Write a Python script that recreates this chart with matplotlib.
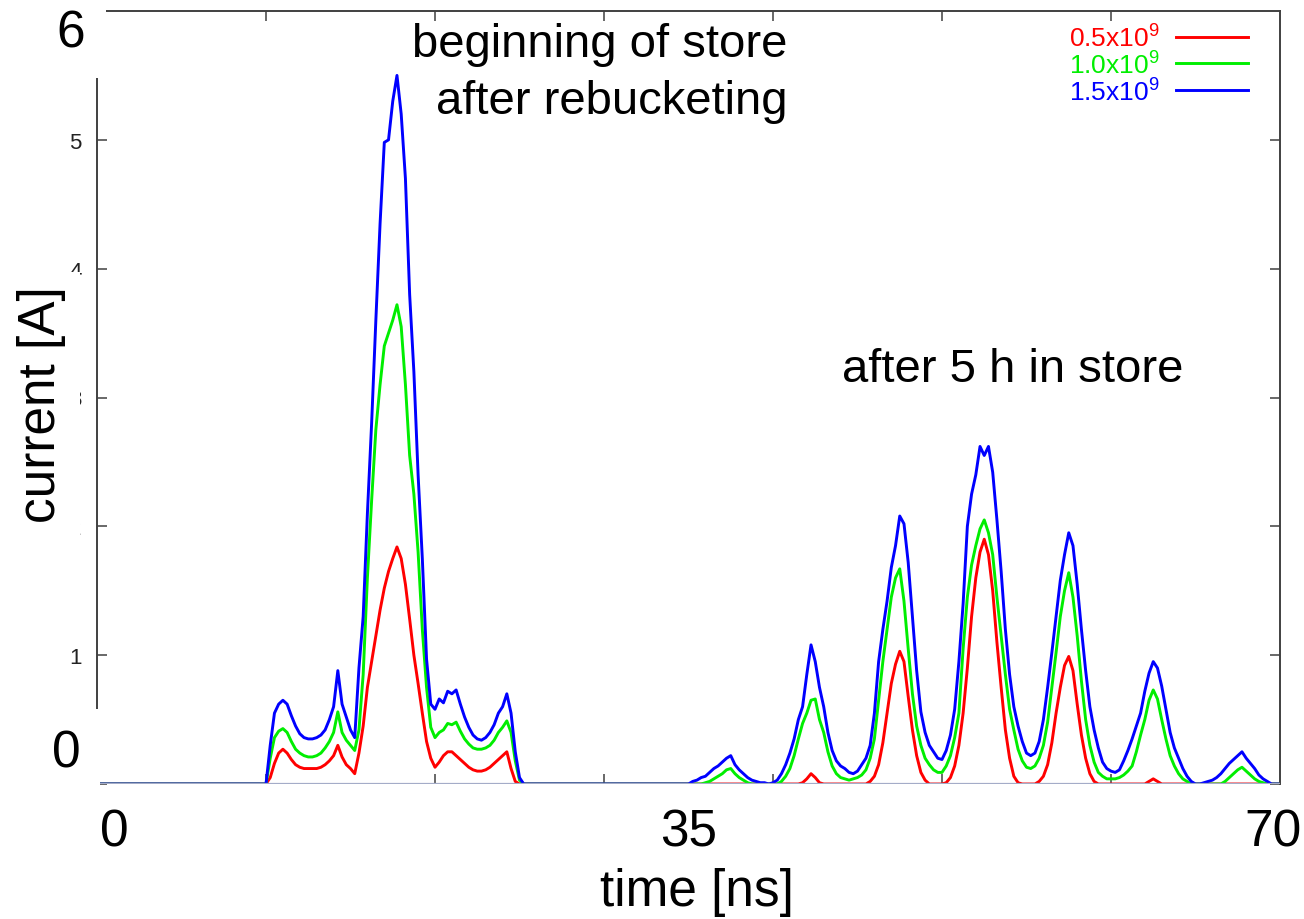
import numpy as np
import matplotlib
matplotlib.use("Agg")
from matplotlib import pyplot as plt

plt.rcParams['font.family'] = ['Liberation Sans', 'DejaVu Sans']
plt.rcParams['mathtext.fontset'] = 'custom'
plt.rcParams['mathtext.rm'] = 'Liberation Sans'

# time grids [ns] of the two bunch profiles
t_start = np.arange(10.0, 25.51, 0.25)   # beginning of store, after rebucketing
t_after = np.arange(35.0, 70.01, 0.25)   # after 5 h in store

# current [A]
red_start = [
    0.0, 0.05, 0.16, 0.24, 0.27, 0.24, 0.19, 0.15,
    0.13, 0.12, 0.12, 0.12, 0.12, 0.13, 0.15, 0.18,
    0.22, 0.30, 0.21, 0.15, 0.12, 0.08, 0.24, 0.45,
    0.75, 0.95, 1.15, 1.35, 1.52, 1.65, 1.75, 1.84,
    1.75, 1.55, 1.28, 1.00, 0.78, 0.55, 0.33, 0.20,
    0.13, 0.17, 0.22, 0.25, 0.25, 0.22, 0.19, 0.16,
    0.13, 0.11, 0.10, 0.10, 0.11, 0.13, 0.16, 0.19,
    0.22, 0.25, 0.12, 0.02, 0.0, 0.0, 0.0]
green_start = [
    0.0, 0.20, 0.36, 0.41, 0.43, 0.40, 0.33, 0.27,
    0.24, 0.22, 0.21, 0.21, 0.22, 0.24, 0.28, 0.33,
    0.40, 0.56, 0.40, 0.34, 0.30, 0.26, 0.42, 0.85,
    1.60, 2.20, 2.75, 3.10, 3.40, 3.50, 3.60, 3.72,
    3.55, 3.10, 2.55, 2.25, 1.80, 1.20, 0.75, 0.44,
    0.36, 0.40, 0.42, 0.47, 0.46, 0.48, 0.41, 0.35,
    0.31, 0.28, 0.27, 0.27, 0.28, 0.30, 0.34, 0.40,
    0.44, 0.49, 0.40, 0.18, 0.03, 0.0, 0.0]
blue_start = [
    0.0, 0.30, 0.55, 0.62, 0.65, 0.62, 0.53, 0.45,
    0.39, 0.36, 0.35, 0.35, 0.36, 0.38, 0.42, 0.50,
    0.60, 0.88, 0.62, 0.52, 0.42, 0.36, 0.90, 1.30,
    2.10, 2.80, 3.60, 4.35, 4.98, 5.00, 5.30, 5.50,
    5.20, 4.70, 3.80, 3.20, 2.40, 1.75, 0.97, 0.62,
    0.58, 0.66, 0.63, 0.72, 0.70, 0.73, 0.62, 0.52,
    0.44, 0.38, 0.35, 0.34, 0.36, 0.40, 0.46, 0.55,
    0.60, 0.70, 0.55, 0.25, 0.05, 0.0, 0.0]

red_after = [
    0.0, 0.0, 0.0, 0.0, 0.0, 0.0, 0.0, 0.0,
    0.0, 0.0, 0.0, 0.0, 0.0, 0.0, 0.0, 0.0,
    0.0, 0.0, 0.0, 0.0, 0.0, 0.0, 0.0, 0.0,
    0.0, 0.0, 0.0, 0.01, 0.04, 0.08, 0.05, 0.01,
    0.0, 0.0, 0.0, 0.0, 0.0, 0.0, 0.0, 0.0,
    0.0, 0.0, 0.0, 0.02, 0.06, 0.15, 0.32, 0.55,
    0.78, 0.93, 1.03, 0.95, 0.68, 0.42, 0.22, 0.09,
    0.03, 0.0, 0.0, 0.0, 0.0, 0.01, 0.05, 0.14,
    0.30, 0.55, 0.90, 1.30, 1.60, 1.80, 1.90, 1.78,
    1.50, 1.10, 0.75, 0.42, 0.20, 0.06, 0.01, 0.0,
    0.0, 0.0, 0.0, 0.02, 0.06, 0.15, 0.32, 0.55,
    0.75, 0.92, 0.99, 0.88, 0.62, 0.38, 0.20, 0.08,
    0.02, 0.0, 0.0, 0.0, 0.0, 0.0, 0.0, 0.0,
    0.0, 0.0, 0.0, 0.0, 0.0, 0.02, 0.04, 0.02,
    0.0, 0.0, 0.0, 0.0, 0.0, 0.0, 0.0, 0.0,
    0.0, 0.0, 0.0, 0.0, 0.0, 0.0, 0.0, 0.0,
    0.0, 0.0, 0.0, 0.0, 0.0, 0.0, 0.0, 0.0,
    0.0, 0.0, 0.0, 0.0, 0.0]
green_after = [
    0.0, 0.0, 0.0, 0.0, 0.01, 0.02, 0.04, 0.06,
    0.08, 0.11, 0.12, 0.08, 0.05, 0.03, 0.01, 0.0,
    0.0, 0.0, 0.0, 0.0, 0.0, 0.0, 0.02, 0.06,
    0.12, 0.22, 0.35, 0.47, 0.55, 0.65, 0.66, 0.50,
    0.40, 0.25, 0.14, 0.08, 0.05, 0.04, 0.03, 0.04,
    0.05, 0.07, 0.11, 0.20, 0.35, 0.65, 0.95, 1.20,
    1.45, 1.60, 1.67, 1.42, 1.05, 0.70, 0.45, 0.30,
    0.20, 0.15, 0.11, 0.09, 0.09, 0.14, 0.22, 0.36,
    0.55, 1.05, 1.45, 1.70, 1.85, 1.98, 2.05, 1.95,
    1.78, 1.45, 1.15, 0.85, 0.58, 0.42, 0.27, 0.18,
    0.13, 0.12, 0.14, 0.20, 0.30, 0.48, 0.75, 1.02,
    1.30, 1.50, 1.64, 1.45, 1.15, 0.80, 0.50, 0.30,
    0.17, 0.09, 0.06, 0.04, 0.04, 0.04, 0.05, 0.07,
    0.10, 0.14, 0.25, 0.38, 0.50, 0.65, 0.73, 0.66,
    0.50, 0.35, 0.22, 0.14, 0.08, 0.04, 0.02, 0.0,
    0.0, 0.0, 0.0, 0.0, 0.0, 0.0, 0.0, 0.02,
    0.05, 0.08, 0.11, 0.13, 0.10, 0.07, 0.04, 0.02,
    0.01, 0.0, 0.0, 0.0, 0.0]
blue_after = [
    0.0, 0.02, 0.03, 0.05, 0.06, 0.09, 0.12, 0.14,
    0.17, 0.20, 0.22, 0.15, 0.11, 0.08, 0.05, 0.03,
    0.02, 0.01, 0.01, 0.0, 0.01, 0.03, 0.08, 0.15,
    0.24, 0.35, 0.50, 0.60, 0.85, 1.08, 0.95, 0.75,
    0.60, 0.40, 0.26, 0.18, 0.14, 0.12, 0.09, 0.08,
    0.10, 0.15, 0.20, 0.30, 0.55, 0.95, 1.20, 1.42,
    1.68, 1.85, 2.08, 2.02, 1.72, 1.30, 0.88, 0.56,
    0.40, 0.30, 0.25, 0.20, 0.19, 0.26, 0.38, 0.58,
    0.95, 1.40, 2.00, 2.25, 2.40, 2.62, 2.55, 2.62,
    2.42, 2.05, 1.65, 1.20, 0.85, 0.60, 0.45, 0.33,
    0.24, 0.22, 0.24, 0.33, 0.50, 0.75, 1.02, 1.30,
    1.58, 1.78, 1.95, 1.85, 1.55, 1.20, 0.88, 0.60,
    0.42, 0.28, 0.17, 0.12, 0.10, 0.09, 0.11, 0.18,
    0.26, 0.35, 0.45, 0.55, 0.72, 0.86, 0.95, 0.90,
    0.76, 0.58, 0.40, 0.28, 0.20, 0.12, 0.06, 0.02,
    0.0, 0.0, 0.01, 0.02, 0.03, 0.05, 0.08, 0.12,
    0.16, 0.19, 0.22, 0.25, 0.20, 0.16, 0.12, 0.07,
    0.04, 0.02, 0.0, 0.0, 0.0]

labels = ['0.5x10$^9$', '1.0x10$^9$', '1.5x10$^9$']
colors = ['#ff0000', '#00ee00', '#0000ff']
y_ticks = [0, 1, 2, 3, 4, 5]
x_ticks = [10, 20, 30, 40, 50, 60]

time = np.concatenate([[0.0], t_start, t_after])
series = [
    np.concatenate([[0.0], red_start, red_after]),
    np.concatenate([[0.0], green_start, green_after]),
    np.concatenate([[0.0], blue_start, blue_after]),
]

fig = plt.figure(figsize=(13.04, 9.2), dpi=100)
ax = fig.add_axes([97 / 1304, 135 / 920, 1183 / 1304, 773 / 920])

for vals, col, lab in zip(series, colors, labels):
    ax.plot(time, vals, color=col, lw=2.1, label=lab, zorder=2)

ax.axhline(0, color='#a4acc8', lw=1.6, zorder=2.6)

ax.set_xlim(0, 70)
ax.set_ylim(0, 6)

for side in ['top', 'left', 'right']:
    ax.spines[side].set_color('#404040')
    ax.spines[side].set_linewidth(1.4)
ax.spines['bottom'].set_visible(False)

ax.set_xticks(x_ticks, [''] * len(x_ticks))
ax.set_yticks(y_ticks, [str(v) for v in y_ticks])
ax.tick_params(direction='in', top=True, right=True, length=7, width=1.1,
               color='#404040', labelsize=16, labelcolor='#222222', pad=11)

big = 37
ax.text(1.0, -0.0802, '0', transform=ax.get_xaxis_transform(), ha='center',
        va='baseline', fontsize=big)
ax.text(35.0, -0.0802, '35', transform=ax.get_xaxis_transform(), ha='center',
        va='baseline', fontsize=big)
ax.text(69.6, -0.0802, '70', transform=ax.get_xaxis_transform(), ha='center',
        va='baseline', fontsize=big)
ax.text(35.5, -0.1565, 'time [ns]', transform=ax.get_xaxis_transform(),
        ha='center', va='baseline', fontsize=big)

white = dict(facecolor='white', edgecolor='none')
ax.text(-0.022, 0.9547, '6', transform=ax.transAxes, ha='center',
        va='baseline', fontsize=big, zorder=5, clip_on=False,
        bbox=dict(white, pad=15))
ax.text(-0.026, 0.022, '0', transform=ax.transAxes, ha='center',
        va='baseline', fontsize=big, zorder=5, clip_on=False,
        bbox=dict(white, pad=14))
ax.text(-0.0465, 0.4916, 'current [A]', transform=ax.transAxes, ha='center',
        va='center', rotation=90, fontsize=big, zorder=5, clip_on=False,
        bbox=dict(white, pad=10))

note = 34
ax.text(40.83, 0.9418, 'beginning of store', transform=ax.get_xaxis_transform(),
        ha='right', va='baseline', fontsize=note)
ax.text(40.83, 0.868, 'after rebucketing', transform=ax.get_xaxis_transform(),
        ha='right', va='baseline', fontsize=note)
ax.text(44.08, 0.5213, 'after 5 h in store', transform=ax.get_xaxis_transform(),
        ha='left', va='baseline', fontsize=note)

leg = ax.legend(loc='upper right', bbox_to_anchor=(0.982, 0.998), frameon=False,
                markerfirst=False, fontsize=19, handlelength=2.75,
                handletextpad=0.6, labelspacing=-0.05, borderaxespad=0)
for txt, col in zip(leg.get_texts(), colors):
    txt.set_color(col)

fig.savefig('out.png', dpi=100)
